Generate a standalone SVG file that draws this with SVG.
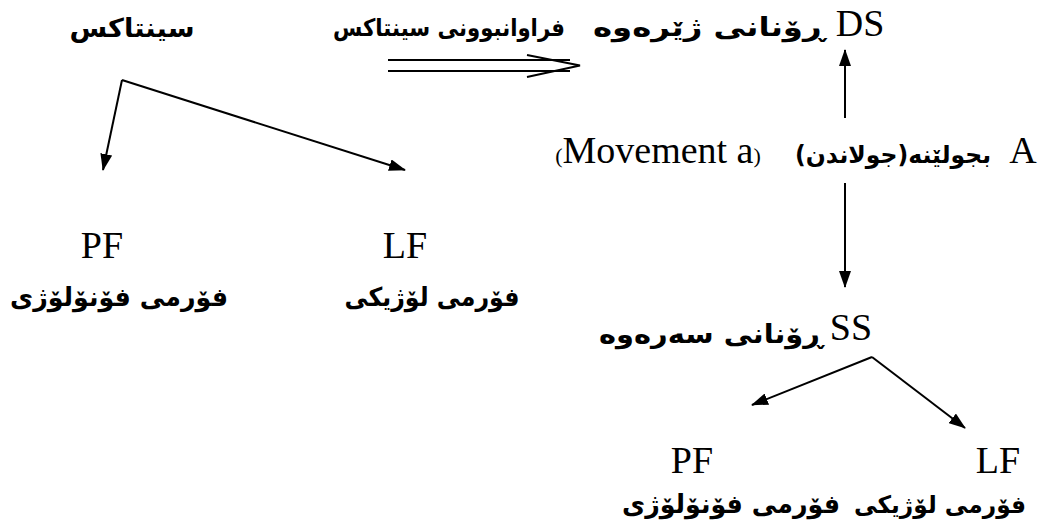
<svg xmlns="http://www.w3.org/2000/svg" width="1042" height="528" viewBox="0 0 1042 528">
<defs>
<style>
.ar{font-family:"DejaVu Sans",sans-serif;font-weight:bold;font-size:26px;fill:#000;direction:rtl;unicode-bidi:embed}
.s24{font-size:24px}
.la{font-family:"Liberation Serif",serif;font-size:38px;fill:#000}
.sp{font-size:22px}
.ln{stroke:#000;stroke-width:2;fill:none}
</style>
<marker id="ah" viewBox="0 0 17 12" refX="16" refY="6" markerWidth="17" markerHeight="12" markerUnits="userSpaceOnUse" orient="auto">
<path d="M0,0 L17,6 L0,12 Z" fill="#000"/>
</marker>
</defs>
<rect width="1042" height="528" fill="#fff"/>
<g id="connectors">
<path class="ln" d="M122,80 L405,170" marker-end="url(#ah)"/>
<path class="ln" d="M122,80 L103,170" marker-end="url(#ah)"/>
<path class="ln" stroke-width="1.5" d="M388,60 H570 M388,71 H570 M527,55 L580,65.5 L527,77"/>
<path class="ln" d="M845,118 V50" marker-end="url(#ah)"/>
<path class="ln" d="M845,183 V287" marker-end="url(#ah)"/>
<path class="ln" d="M872,357 L752,405" marker-end="url(#ah)"/>
<path class="ln" d="M872,357 L965,428" marker-end="url(#ah)"/>
</g>
<g id="syntax"><text class="ar" x="132" y="37" text-anchor="middle" textLength="125" lengthAdjust="spacingAndGlyphs">سینتاکس</text></g>
<g id="expand"><text class="ar s24" x="449" y="36" text-anchor="middle" textLength="232" lengthAdjust="spacingAndGlyphs">فراوانبوونی سینتاکس</text></g>
<g id="ds"><text class="ar" x="709" y="36" text-anchor="middle" textLength="232" lengthAdjust="spacingAndGlyphs">ڕۆنانی ژێرەوە</text><text class="la" x="860" y="36" text-anchor="middle">DS</text></g>
<g id="move">
<text class="la" x="658" y="163" text-anchor="middle"><tspan class="sp">(</tspan>Movement a<tspan class="sp">)</tspan></text>
<text class="ar s24" x="893" y="163" text-anchor="middle" textLength="196" lengthAdjust="spacingAndGlyphs">بجولێنە(جولاندن)</text>
<text class="la" x="1023" y="163" text-anchor="middle">A</text>
</g>
<g id="pf1"><text class="la" x="102" y="258" text-anchor="middle">PF</text><text class="ar" x="119" y="306" text-anchor="middle" textLength="218" lengthAdjust="spacingAndGlyphs">فۆرمی فۆنۆلۆژی</text></g>
<g id="lf1"><text class="la" x="405" y="258" text-anchor="middle">LF</text><text class="ar" x="432" y="306" text-anchor="middle" textLength="175" lengthAdjust="spacingAndGlyphs">فۆرمی لۆژیکی</text></g>
<g id="ss"><text class="ar" x="711" y="343" text-anchor="middle" textLength="224" lengthAdjust="spacingAndGlyphs">ڕۆنانی سەرەوە</text><text class="la" x="851" y="340" text-anchor="middle">SS</text></g>
<g id="pf2"><text class="la" x="692" y="473" text-anchor="middle">PF</text><text class="ar" x="731" y="513" text-anchor="middle" textLength="218" lengthAdjust="spacingAndGlyphs">فۆرمی فۆنۆلۆژی</text></g>
<g id="lf2"><text class="la" x="998" y="473" text-anchor="middle">LF</text><text class="ar s24" x="940" y="513" text-anchor="middle" textLength="172" lengthAdjust="spacingAndGlyphs">فۆرمی لۆژیکی</text></g>
</svg>
